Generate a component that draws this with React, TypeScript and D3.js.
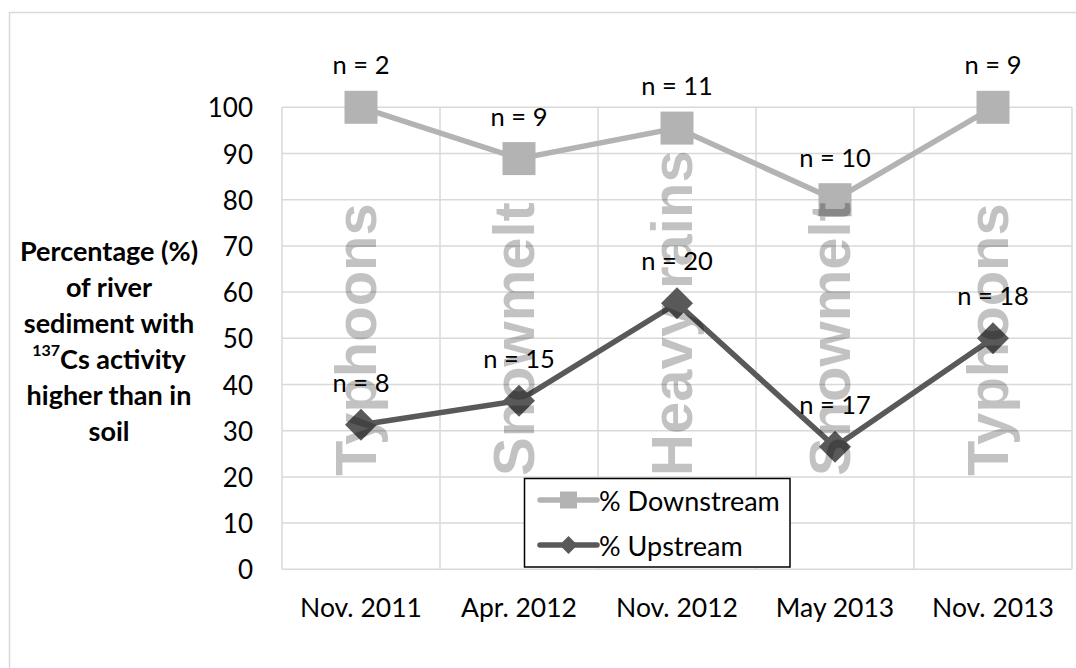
import * as d3 from "d3";

// categories & series
const periods = ["Nov. 2011", "Apr. 2012", "Nov. 2012", "May 2013", "Nov. 2013"];
const events = ["Typhoons", "Snowmelt", "Heavy rains", "Snowmelt", "Typhoons"];
const downstream = [100, 88.9, 95.5, 80, 100];
const upstream = [31.3, 36.5, 57.6, 26.5, 50];
const downstreamN = [2, 9, 11, 10, 9];
const upstreamN = [8, 15, 20, 17, 18];
const yTicks = [0, 10, 20, 30, 40, 50, 60, 70, 80, 90, 100];

const W = 1076;
const H = 668;
const plot = {left: 282, right: 1072, top: 107.3, bottom: 569.3};
const FONT = "Lato, 'Open Sans', sans-serif";
const LIGHT = "#b3b3b3";
const DARK = "#595959";
const GRID = "#d9d9d9";

export default function App() {
  const x = d3.scaleBand<string>().domain(periods).range([plot.left, plot.right]);
  const cx = (p: string) => (x(p) ?? 0) + x.bandwidth() / 2;
  const y = d3.scaleLinear().domain([0, 100]).range([plot.bottom, plot.top]);

  const line = d3
    .line<number>()
    .x((_, i) => cx(periods[i]))
    .y((d) => y(d));

  const sq = 33;
  const dm = 32;
  const diamond = (s: number) => `M0,${-s / 2} L${s / 2},0 L0,${s / 2} L${-s / 2},0 Z`;

  const bounds = [...periods.map((p) => x(p) ?? 0), plot.right];

  const titleLines = ["Percentage (%)", "of river", "sediment with", "", "higher than in", "soil"];

  return (
    <svg
      width={W}
      height={H}
      style={{position: "absolute", left: 0, top: 0, background: "white"}}
      fontFamily={FONT}
    >
      <rect x={9.5} y={12.5} width={1090} height={700} fill="white" stroke={GRID} strokeWidth={1.5} />

      {/* gridlines */}
      {yTicks.map((t) => (
        <line key={"h" + t} x1={plot.left} x2={plot.right} y1={y(t)} y2={y(t)} stroke={GRID} strokeWidth={1.5} />
      ))}
      {bounds.map((b, i) => (
        <line key={"v" + i} x1={b} x2={b} y1={plot.top} y2={plot.bottom} stroke={GRID} strokeWidth={1.5} />
      ))}

      {/* y tick labels */}
      {yTicks.map((t) => (
        <text key={"yt" + t} x={253} y={y(t)} textAnchor="end" dominantBaseline="central" fontSize={26} fill="#000">
          {t}
        </text>
      ))}

      {/* x labels */}
      {periods.map((p) => (
        <text key={"xl" + p} x={cx(p)} y={607} textAnchor="middle" dominantBaseline="central" fontSize={26.5} fill="#000">
          {p}
        </text>
      ))}

      {/* y title */}
      <g fontWeight="bold" fontSize={27} textAnchor="middle" fill="#000">
        {titleLines.map((l, i) =>
          i === 3 ? (
            <text key={i} x={109} y={250 + i * 36} dominantBaseline="central">
              <tspan fontSize={16} dy={-9}>137</tspan>
              <tspan dy={9}>Cs activity</tspan>
            </text>
          ) : (
            <text key={i} x={109} y={250 + i * 36} dominantBaseline="central">
              {l}
            </text>
          ),
        )}
      </g>

      {/* series */}
      <path d={line(downstream) ?? ""} fill="none" stroke={LIGHT} strokeWidth={5.5} />
      {downstream.map((v, i) => (
        <rect key={"ds" + i} x={cx(periods[i]) - sq / 2} y={y(v) - sq / 2} width={sq} height={sq} fill={LIGHT} />
      ))}
      <path d={line(upstream) ?? ""} fill="none" stroke={DARK} strokeWidth={5.5} />
      {upstream.map((v, i) => (
        <path key={"us" + i} d={diamond(dm)} transform={`translate(${cx(periods[i])},${y(v)})`} fill={DARK} />
      ))}

      {/* event text overlay */}
      {events.map((e, i) => (
        <text
          key={"ev" + i}
          transform={`translate(${cx(periods[i]) + 15},476) rotate(-90)`}
          fontFamily="'Liberation Sans', Arial, sans-serif"
          fontWeight="bold"
          fontSize={58}
          fill="#000"
          fillOpacity={0.24}
        >
          {e}
        </text>
      ))}

      {/* data labels */}
      {downstream.map((v, i) => (
        <text key={"dl" + i} x={cx(periods[i])} y={y(v) - 43} textAnchor="middle" dominantBaseline="central" fontSize={25.5} fill="#000">
          {`n = ${downstreamN[i]}`}
        </text>
      ))}
      {upstream.map((v, i) => (
        <text key={"ul" + i} x={cx(periods[i])} y={y(v) - 43} textAnchor="middle" dominantBaseline="central" fontSize={25.5} fill="#000">
          {`n = ${upstreamN[i]}`}
        </text>
      ))}

      {/* legend */}
      <g>
        <rect x={524.5} y={478.5} width={265.5} height={88.5} fill="white" stroke="#000" strokeWidth={1.5} />
        <line x1={540} x2={597} y1={500} y2={500} stroke={LIGHT} strokeWidth={5.5} strokeLinecap="round" />
        <rect x={568.5 - 8.5} y={500 - 8.5} width={17} height={17} fill={LIGHT} />
        <text x={599} y={500} dominantBaseline="central" fontSize={27} fill="#000">% Downstream</text>
        <line x1={540} x2={597} y1={545} y2={545} stroke={DARK} strokeWidth={5.5} strokeLinecap="round" />
        <path d={diamond(18)} transform="translate(568.5,545)" fill={DARK} />
        <text x={599} y={545} dominantBaseline="central" fontSize={27} fill="#000">% Upstream</text>
      </g>
    </svg>
  );
}
